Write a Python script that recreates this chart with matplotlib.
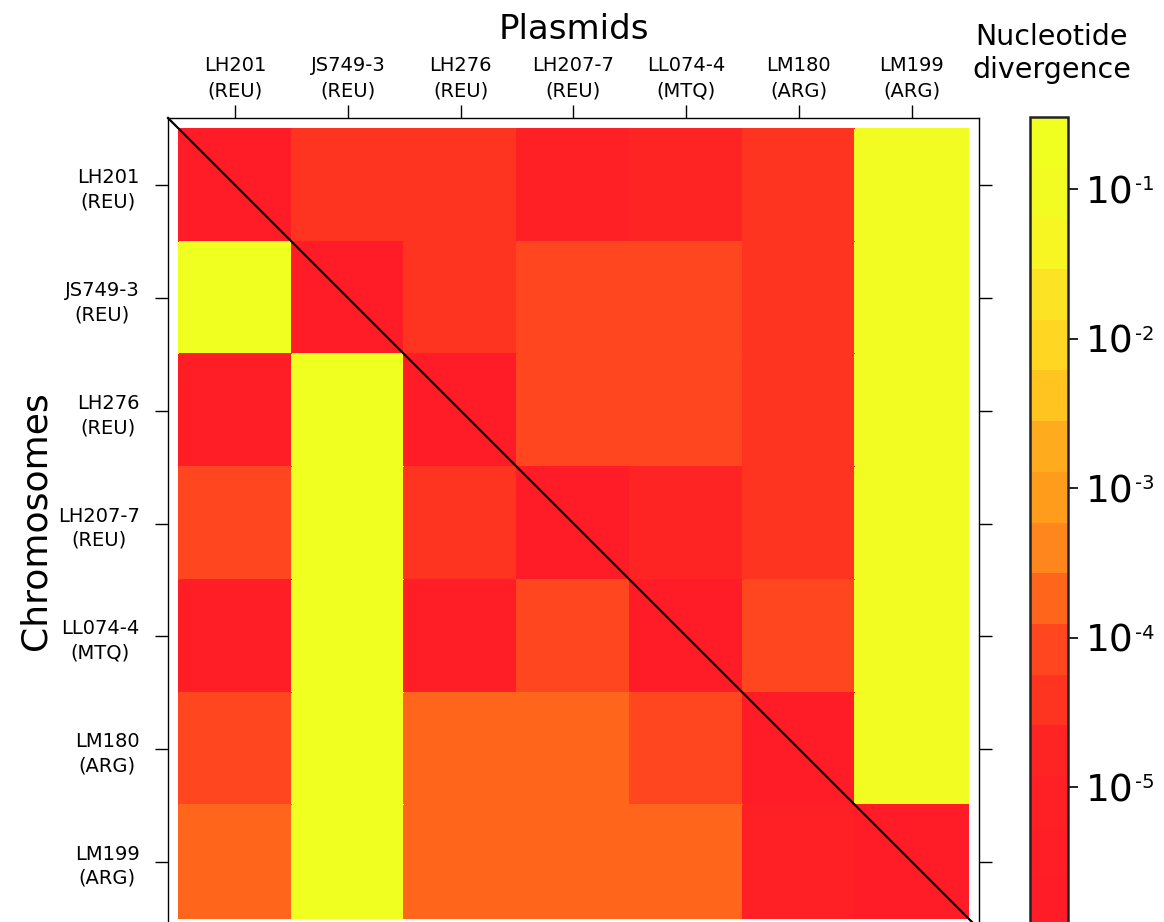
import numpy as np
import matplotlib
matplotlib.use("Agg")
import matplotlib.pyplot as plt
from matplotlib.colors import ListedColormap, BoundaryNorm
from matplotlib.transforms import blended_transform_factory, offset_copy

# ---------------- data ----------------
strains = ["LH201", "JS749-3", "LH276", "LH207-7", "LL074-4", "LM180", "LM199"]
origins = ["REU", "REU", "REU", "REU", "MTQ", "ARG", "ARG"]

# rows: chromosomes (top to bottom), columns: plasmids (left to right)
row_LH201 = [1.7e-6, 3.8e-5, 3.8e-5, 8.0e-6, 1.8e-5, 3.8e-5, 0.09]
row_JS749 = [0.20, 1.7e-6, 3.8e-5, 8.4e-5, 8.4e-5, 3.8e-5, 0.09]
row_LH276 = [3.7e-6, 0.20, 1.7e-6, 8.4e-5, 8.4e-5, 3.8e-5, 0.09]
row_LH207 = [8.4e-5, 0.20, 3.8e-5, 1.7e-6, 1.8e-5, 3.8e-5, 0.09]
row_LL074 = [3.7e-6, 0.20, 3.7e-6, 8.4e-5, 1.7e-6, 8.4e-5, 0.09]
row_LM180 = [8.4e-5, 0.20, 1.8e-4, 1.8e-4, 8.4e-5, 1.7e-6, 0.09]
row_LM199 = [1.8e-4, 0.20, 1.8e-4, 1.8e-4, 1.8e-4, 8.0e-6, 1.7e-6]

# colour key: 16 levels, lowest to highest
level_colors = ["#FF1C26", "#FF1E26", "#FF2026", "#FF2424", "#FF3420", "#FF461E",
                "#FF661C", "#FF861C", "#FF9C1C", "#FFAB1E", "#FFC420", "#FFD622",
                "#FCE424", "#F7F522", "#F2FC22", "#F0FF20"]
log_min, log_max = -5.94, -0.518
cbar_exponents = [-5, -4, -3, -2, -1]

# ---------------- figure ----------------
plt.rcParams['font.family'] = ['DejaVu Sans']

W, H = 1164, 922
fig = plt.figure(figsize=(W / 100, H / 100), dpi=100)


def fx(px):
    return px / W


def fy(py):
    return 1 - py / H


matrix = np.array([row_LH201, row_JS749, row_LH276, row_LH207,
                   row_LL074, row_LM180, row_LM199])
logm = np.log10(matrix)

cmap = ListedColormap(level_colors)
bounds = np.linspace(log_min, log_max, len(level_colors) + 1)
norm = BoundaryNorm(bounds, cmap.N)

ax = fig.add_axes([fx(168), fy(929), fx(979) - fx(168), fy(118) - fy(929)])
n = len(strains)
mesh = ax.pcolormesh(np.arange(n + 1), np.arange(n + 1), logm, cmap=cmap, norm=norm,
                     edgecolor='face', linewidth=0.3)
pad = 0.0976
ax.set_xlim(-pad, n + pad)
ax.set_ylim(n + pad, -pad)

labels = [f"{s}\n({o})" for s, o in zip(strains, origins)]
ax.set_xticks(np.arange(n) + 0.5)
ax.set_xticklabels(labels, fontsize=14)
ax.set_yticks(np.arange(n) + 0.5)
ax.set_yticklabels(labels, fontsize=14)
ax.tick_params(axis='x', top=True, bottom=True, labeltop=True, labelbottom=False,
               direction='out', length=9.5, width=1.0, pad=3)
ax.tick_params(axis='y', left=True, right=True, labelleft=True, labelright=False,
               direction='out', length=9.5, width=1.0, pad=11)
for lbl in ax.get_xticklabels():
    lbl.set_linespacing(1.45)
    lbl.set_multialignment('center')
for lbl in ax.get_yticklabels():
    lbl.set_linespacing(1.35)
    lbl.set_multialignment('center')
for sp in ax.spines.values():
    sp.set_linewidth(1.0)

ax.plot([0, 1], [1, 0], transform=ax.transAxes, color='black', lw=1.6,
        clip_on=False, zorder=5)

fig.text(fx(573.5), fy(39), "Plasmids", fontsize=24.5, ha='center', va='baseline')
fig.text(fx(46), fy(521), "Chromosomes", fontsize=26, ha='center', va='baseline',
         rotation=90, rotation_mode='anchor')

# colour key
cax = fig.add_axes([fx(1030), fy(928), fx(1068) - fx(1030), fy(117) - fy(928)])
cb = fig.colorbar(mesh, cax=cax, orientation='vertical')
cb.set_ticks(cbar_exponents)
cb.set_ticklabels([""] * len(cbar_exponents))
cb.outline.set_linewidth(1.8)
cb.outline.set_edgecolor('#222222')
cax.tick_params(axis='y', direction='out', length=7.5, width=1.2, pad=7)
cax.minorticks_off()

# tick labels of the key: "10" with a small raised exponent
blend = blended_transform_factory(cax.transAxes, cax.transData)
base_tr = offset_copy(blend, fig=fig, x=0, y=-14, units='dots')
sup_tr = offset_copy(blend, fig=fig, x=0, y=-1, units='dots')
for e in cbar_exponents:
    cax.text(1.47, e, "10", transform=base_tr, fontsize=27, ha='left',
             va='baseline', clip_on=False)
    cax.text(2.76, e, f"-{-e}", transform=sup_tr, fontsize=14, ha='left',
             va='baseline', clip_on=False)

fig.text(fx(1052), fy(78), "Nucleotide\ndivergence", fontsize=20.5, ha='center',
         va='baseline', linespacing=1.25, multialignment='center')

fig.savefig("out.png", dpi=100)
